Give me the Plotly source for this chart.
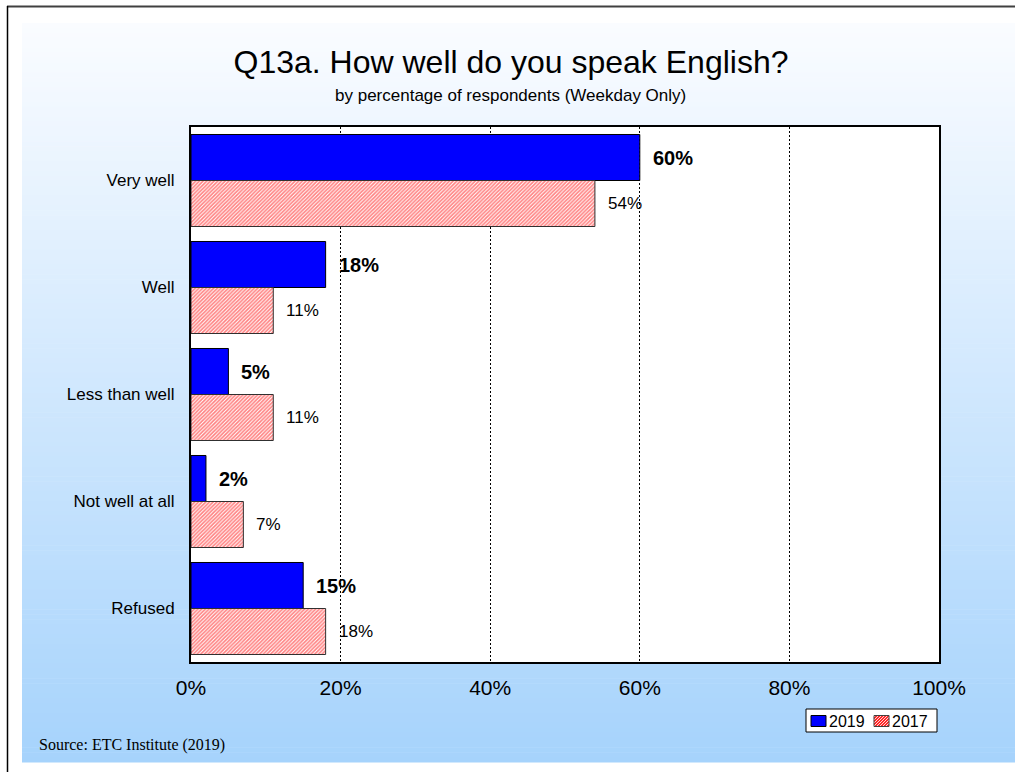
import plotly.graph_objects as go

# Survey answers, top to bottom
categories = ["Very well", "Well", "Less than well", "Not well at all", "Refused"]
pct_2019 = [60, 18, 5, 2, 15]
pct_2017 = [54, 11, 11, 7, 18]
series_names = ["2019", "2017"]
x_tick_vals = [0, 20, 40, 60, 80, 100]
x_tick_text = ["0%", "20%", "40%", "60%", "80%", "100%"]

W, H = 1015, 772
ML, MR, MT, MB = 191, 76, 127, 110
PW = W - ML - MR
PH = H - MT - MB

SANS = "Liberation Sans, Arial, sans-serif"
SERIF = "Liberation Serif, Times New Roman, serif"
BLUE = "#0000FF"
RED = "#FF0000"


def fx(px):
    """figure pixel x -> paper x"""
    return (px - ML) / PW


def fy(py):
    """figure pixel y (from top) -> paper y"""
    return (H - MB - py) / PH


fig = go.Figure()

fig.add_trace(go.Bar(
    name=series_names[0], y=categories, x=pct_2019, orientation="h",
    marker=dict(color=BLUE, line=dict(color="#000000", width=1)),
    hoverinfo="skip",
))
fig.add_trace(go.Bar(
    name=series_names[1], y=categories, x=pct_2017, orientation="h",
    marker=dict(
        color="#FFFFFF",
        line=dict(color="#303030", width=1),
        pattern=dict(shape="/", fgcolor=RED, bgcolor="#FFFFFF",
                     size=2.6, solidity=0.6, fillmode="overlay"),
    ),
    hoverinfo="skip",
))

shapes = []
# vertical background gradient, white at the top to light blue at the bottom
top_rgb = (250, 252, 255)
bot_rgb = (166, 211, 252)
g_top, g_bot, g_left = 23, 762, 22
n = 150
step = (g_bot - g_top) / n
for i in range(n):
    t = i / (n - 1)
    c = tuple(round(a + (b - a) * t) for a, b in zip(top_rgb, bot_rgb))
    shapes.append(dict(
        type="rect", xref="paper", yref="paper", layer="below",
        x0=fx(g_left), x1=fx(W + 2),
        y0=fy(g_top + i * step), y1=fy(g_top + (i + 1) * step + 0.6),
        fillcolor="rgb(%d,%d,%d)" % c, line=dict(width=0),
    ))
# white plotting area over the gradient
shapes.append(dict(
    type="rect", xref="paper", yref="paper", layer="below",
    x0=0, x1=1, y0=0, y1=1, fillcolor="#FFFFFF", line=dict(width=0),
))
# outer frame lines
shapes.append(dict(type="line", xref="paper", yref="paper",
                   x0=fx(7), x1=fx(W + 2), y0=fy(6.5), y1=fy(6.5),
                   line=dict(color="#404040", width=2)))
shapes.append(dict(type="line", xref="paper", yref="paper",
                   x0=fx(7.5), x1=fx(7.5), y0=fy(6), y1=fy(H + 2),
                   line=dict(color="#000000", width=1.5)))

# legend box with its two keys
LG_X0, LG_X1, LG_Y0, LG_Y1 = 806, 937, 709, 732
shapes.append(dict(type="rect", xref="paper", yref="paper",
                   x0=fx(LG_X0), x1=fx(LG_X1), y0=fy(LG_Y0), y1=fy(LG_Y1),
                   fillcolor="#FFFFFF", line=dict(color="#000000", width=1)))
key_y0, key_y1 = 715.5, 726.5
keys = [(811, 826), (874, 889)]
# solid key
shapes.append(dict(type="rect", xref="paper", yref="paper",
                   x0=fx(keys[0][0]), x1=fx(keys[0][1]),
                   y0=fy(key_y0), y1=fy(key_y1),
                   fillcolor=BLUE, line=dict(color="#000000", width=1)))
# hatched key: diagonal red strokes clipped to the key square
kx0, kx1 = keys[1]
kw, kh = kx1 - kx0, key_y1 - key_y0
segs = []
s = 3.0
c = -kh
while c < kw:
    # line: x = kx0 + c + d, y = key_y1 - d   (rising to the right)
    d0 = max(0.0, -c)
    d1 = min(kh, kw - c)
    if d1 > d0:
        xa, ya = kx0 + c + d0, key_y1 - d0
        xb, yb = kx0 + c + d1, key_y1 - d1
        segs.append("M%.5f,%.5f L%.5f,%.5f" % (fx(xa), fy(ya), fx(xb), fy(yb)))
    c += s
shapes.append(dict(type="rect", xref="paper", yref="paper",
                   x0=fx(kx0), x1=fx(kx1), y0=fy(key_y0), y1=fy(key_y1),
                   fillcolor="#FFFFFF", line=dict(width=0)))
shapes.append(dict(type="path", xref="paper", yref="paper", path=" ".join(segs),
                   line=dict(color=RED, width=1.2)))
shapes.append(dict(type="rect", xref="paper", yref="paper",
                   x0=fx(kx0), x1=fx(kx1), y0=fy(key_y0), y1=fy(key_y1),
                   line=dict(color="#404040", width=1)))

annotations = []
for (kx0_, kx1_), name in zip(keys, series_names):
    annotations.append(dict(
        xref="paper", yref="paper", x=fx(kx1_ + 1), y=fy(721),
        text=name, showarrow=False, xanchor="left", yanchor="middle",
        font=dict(family=SANS, size=16, color="#000000"),
    ))

for cat, v in zip(categories, pct_2019):
    annotations.append(dict(
        x=v, y=cat, xref="x", yref="y", text=f"<b>{v}%</b>",
        showarrow=False, xanchor="left", yanchor="middle",
        xshift=11, yshift=23,
        font=dict(family=SANS, size=20, color="#000000"),
    ))
for cat, v in zip(categories, pct_2017):
    annotations.append(dict(
        x=v, y=cat, xref="x", yref="y", text=f"{v}%",
        showarrow=False, xanchor="left", yanchor="middle",
        xshift=11, yshift=-23,
        font=dict(family=SANS, size=17, color="#000000"),
    ))
annotations.append(dict(
    xref="paper", yref="paper", x=fx(510), y=fy(96),
    text="by percentage of respondents (Weekday Only)", showarrow=False,
    xanchor="center", yanchor="middle",
    font=dict(family=SANS, size=17, color="#000000"),
))
annotations.append(dict(
    xref="paper", yref="paper", x=fx(37), y=fy(745),
    text="Source: ETC Institute (2019)", showarrow=False,
    xanchor="left", yanchor="middle",
    font=dict(family=SERIF, size=16, color="#000000"),
))

fig.update_layout(
    width=W, height=H,
    margin=dict(l=ML, r=MR, t=MT, b=MB, pad=0),
    paper_bgcolor="#FFFFFF", plot_bgcolor="#FFFFFF",
    barmode="group", bargap=0.14, bargroupgap=0,
    title=dict(text="Q13a. How well do you speak English?",
               x=fx(511), xref="paper", xanchor="center",
               y=1 - 62 / H, yref="container", yanchor="middle",
               font=dict(family=SANS, size=32, color="#000000")),
    font=dict(family=SANS, color="#000000"),
    showlegend=False,
    shapes=shapes,
    annotations=annotations,
    xaxis=dict(range=[0, 100], tickvals=x_tick_vals, ticktext=x_tick_text,
               showgrid=True, gridcolor="#000000", gridwidth=1, griddash="2px,2px",
               showline=True, linecolor="#000000", linewidth=2, mirror=True,
               ticks="", zeroline=False, ticklabelstandoff=6,
               tickfont=dict(family=SANS, size=21, color="#000000")),
    yaxis=dict(type="category", autorange="reversed",
               showgrid=False, showline=True, linecolor="#000000", linewidth=2,
               mirror=True, ticks="", ticklabelstandoff=11,
               tickfont=dict(family=SANS, size=17, color="#000000")),
)

fig.write_html("out.html")
